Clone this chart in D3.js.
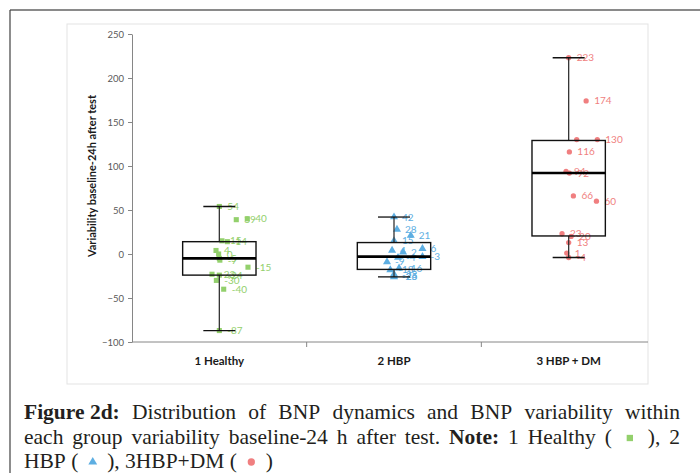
<!DOCTYPE html>
<html>
<head>
<meta charset="utf-8">
<script src="https://cdn.jsdelivr.net/npm/d3@7"></script>
<style>
  body { margin: 0; background: #fff; }
  svg { display: block; }
</style>
</head>
<body>
<script>
// groups and axis
const categories = ["1 Healthy", "2 HBP", "3 HBP + DM"];
const yTicks = [-100, -50, 0, 50, 100, 150, 200, 250];
const yLabel = "Variability baseline-24h after test";

// points (value, horizontal jitter as share of the band, label)
const healthyValues = [54, 40, 39, 15, 14, 4, 0, -5, -7, -15, -23, -24, -30, -40, -87];
const healthyJitter = [0, .16, .097, .015, .046, -.019, -.004, 0, .003, .164, -.042, 0, -.017, .025, 0];
const hbpValues = [42, 28, 21, 15, 6, 4, 2, -3, -4, -9, -16, -18, -23, -25, -26];
const hbpJitter = [0, .017, .096, 0, .163, -.011, .052, .163, .023, -.04, .029, -.021, 0, 0, 0];
const dmValues = [223, 174, 130, 130, 116, 94, 92, 66, 60, 23, 20, 13, 1, -4];
const dmJitter = [0, .1, .046, .164, .004, -.015, .004, .027, .159, -.038, .014, 0, -.011, 0];
const dmLabels = ["223", "174", "", "130", "116", "94", "92", "66", "60", "23", "20", "13", "1", "-4"];

// box statistics per group
const boxMin = [-87, -26, -4];
const boxQ1 = [-24, -17.5, 20.5];
const boxMedian = [-5, -3, 92];
const boxQ3 = [14, 13, 129];
const boxMax = [54, 42, 223];

const colors = ["#93d06c", "#5daee2", "#f07f80"];
const symbols = [d3.symbolSquare, d3.symbolTriangle, d3.symbolCircle];

// caption
const captionLines = [
  [{t: "Figure 2d:", b: true}, "Distribution", "of", "BNP", "dynamics", "and", "BNP", "variability", "within"],
  ["each", "group", "variability", "baseline-24", "h", "after", "test.", {t: "Note:", b: true}, "1", "Healthy", "(", {m: 0}, "),", "2"],
  ["HBP", "(", {m: 1}, "),", "3HBP+DM", "(", {m: 2}, ")"]
];

const width = 700, height = 473;
const plot = {left: 67, top: 24, right: 648, bottom: 384};

const svg = d3.select("body").append("svg")
  .attr("width", width)
  .attr("height", height);

// outer frame
svg.append("line")
  .attr("x1", 10).attr("x2", width).attr("y1", 10).attr("y2", 10)
  .attr("stroke", "#8a8a8a").attr("stroke-width", 2);
svg.append("line")
  .attr("x1", 10).attr("x2", 10).attr("y1", 10).attr("y2", height)
  .attr("stroke", "#404040").attr("stroke-width", 1.2);

// chart area
svg.append("rect")
  .attr("x", plot.left).attr("y", plot.top)
  .attr("width", plot.right - plot.left).attr("height", plot.bottom - plot.top)
  .attr("fill", "#fff").attr("stroke", "#e3e3e3");

const x = d3.scaleBand().domain(categories).range([132, 656]);
const y = d3.scaleLinear().domain([-100, 250]).range([342, 34]);
const bw = x.bandwidth();
const cx = i => x(categories[i]) + bw / 2;

// y axis
const yAxis = svg.append("g")
  .attr("transform", "translate(132,0)")
  .call(d3.axisLeft(y).tickValues(yTicks).tickSize(4).tickSizeOuter(0).tickPadding(4));
yAxis.select(".domain").attr("stroke", "#868686");
yAxis.selectAll(".tick line").attr("stroke", "#868686");
yAxis.selectAll("text")
  .style("font", "9.5px Lato, sans-serif")
  .attr("fill", "#595959");

// x axis (line stops at the chart area edge)
svg.append("line")
  .attr("x1", x.range()[0]).attr("x2", plot.right)
  .attr("y1", y(-100)).attr("y2", y(-100))
  .attr("stroke", "#868686");
svg.append("g")
  .selectAll("line")
  .data(categories.slice(1))
  .join("line")
    .attr("x1", d => x(d)).attr("x2", d => x(d))
    .attr("y1", y(-100)).attr("y2", y(-100) + 5)
    .attr("stroke", "#868686");
svg.append("g")
  .selectAll("text")
  .data(categories)
  .join("text")
    .attr("x", d => x(d) + bw / 2)
    .attr("y", 365)
    .attr("text-anchor", "middle")
    .style("font", "bold 11.5px Lato, sans-serif")
    .attr("fill", "#1a1a1a")
    .text(d => d);

svg.append("text")
  .attr("transform", "translate(92,176) rotate(-90)")
  .attr("text-anchor", "middle")
  .attr("dy", "0.35em")
  .style("font", "bold 11px Lato, sans-serif")
  .attr("fill", "#1a1a1a")
  .text(yLabel);

// points and labels
const groups = [
  {values: healthyValues, jitter: healthyJitter, labels: healthyValues.map(String)},
  {values: hbpValues, jitter: hbpJitter, labels: hbpValues.map(String)},
  {values: dmValues, jitter: dmJitter, labels: dmLabels}
];
const points = groups.flatMap((g, gi) => g.values.map((v, i) => ({
  g: gi, v: v, px: cx(gi) + g.jitter[i] * bw, label: g.labels[i]
})));

svg.append("g")
  .selectAll("text")
  .data(points)
  .join("text")
    .attr("x", d => d.px + 8)
    .attr("y", d => y(d.v))
    .attr("dy", "0.35em")
    .style("font", "10px Lato, sans-serif")
    .attr("fill", d => colors[d.g])
    .text(d => d.label);

const sizes = [26, 28, 22];
svg.append("g")
  .selectAll("path")
  .data(points)
  .join("path")
    .attr("transform", d => `translate(${d.px},${y(d.v)})`)
    .attr("d", d => d3.symbol(symbols[d.g], sizes[d.g])())
    .attr("fill", d => colors[d.g]);

// boxes and whiskers
const boxW = bw * 0.42, capW = 32;
const boxes = svg.append("g")
  .selectAll("g")
  .data(categories)
  .join("g");
boxes.append("line")
  .attr("x1", (d, i) => cx(i)).attr("x2", (d, i) => cx(i))
  .attr("y1", (d, i) => y(boxMax[i])).attr("y2", (d, i) => y(boxQ3[i]))
  .attr("stroke", "#333").attr("stroke-width", 1.3);
boxes.append("line")
  .attr("x1", (d, i) => cx(i)).attr("x2", (d, i) => cx(i))
  .attr("y1", (d, i) => y(boxQ1[i])).attr("y2", (d, i) => y(boxMin[i]))
  .attr("stroke", "#333").attr("stroke-width", 1.3);
[boxMax, boxMin].forEach(arr => {
  boxes.append("line")
    .attr("x1", (d, i) => cx(i) - capW / 2).attr("x2", (d, i) => cx(i) + capW / 2)
    .attr("y1", (d, i) => y(arr[i])).attr("y2", (d, i) => y(arr[i]))
    .attr("stroke", "#111").attr("stroke-width", 1.3);
});
boxes.append("rect")
  .attr("x", (d, i) => cx(i) - boxW / 2)
  .attr("y", (d, i) => y(boxQ3[i]))
  .attr("width", boxW)
  .attr("height", (d, i) => y(boxQ1[i]) - y(boxQ3[i]))
  .attr("fill", "none").attr("stroke", "#111").attr("stroke-width", 1.4);
boxes.append("line")
  .attr("x1", (d, i) => cx(i) - boxW / 2).attr("x2", (d, i) => cx(i) + boxW / 2)
  .attr("y1", (d, i) => y(boxMedian[i])).attr("y2", (d, i) => y(boxMedian[i]))
  .attr("stroke", "#000").attr("stroke-width", 2.6);

// caption, first two lines justified
const capLeft = 24, capRight = 680;
const baselines = [419, 444, 468];
const cap = svg.append("g").style("font", "21.5px 'Liberation Serif', serif").attr("fill", "#231f20");
const probe = cap.append("text").text("a a");
const probe2 = cap.append("text").text("aa");
const spaceW = probe.node().getComputedTextLength() - probe2.node().getComputedTextLength();
probe.remove(); probe2.remove();
const markerW = 18;

captionLines.forEach((tokens, li) => {
  const items = tokens.map(tok => {
    if (typeof tok === "object" && tok.m !== undefined) return {m: tok.m, w: markerW};
    const t = typeof tok === "string" ? tok : tok.t;
    const el = cap.append("text").attr("y", baselines[li]).text(t);
    if (tok.b) el.attr("font-weight", "bold");
    return {el: el, w: el.node().getComputedTextLength()};
  });
  const total = d3.sum(items, d => d.w);
  const gap = li < 2 ? (capRight - capLeft - total) / (items.length - 1) : spaceW;
  let cur = capLeft;
  items.forEach(it => {
    if (it.el) {
      it.el.attr("x", cur);
    } else {
      const s = it.m === 0 ? 40 : it.m === 1 ? 34 : 42;
      cap.append("path")
        .attr("transform", `translate(${cur + it.w / 2},${baselines[li] - 6})`)
        .attr("d", d3.symbol(symbols[it.m], s)())
        .attr("fill", colors[it.m]);
    }
    cur += it.w + gap;
  });
});
</script>
</body>
</html>
